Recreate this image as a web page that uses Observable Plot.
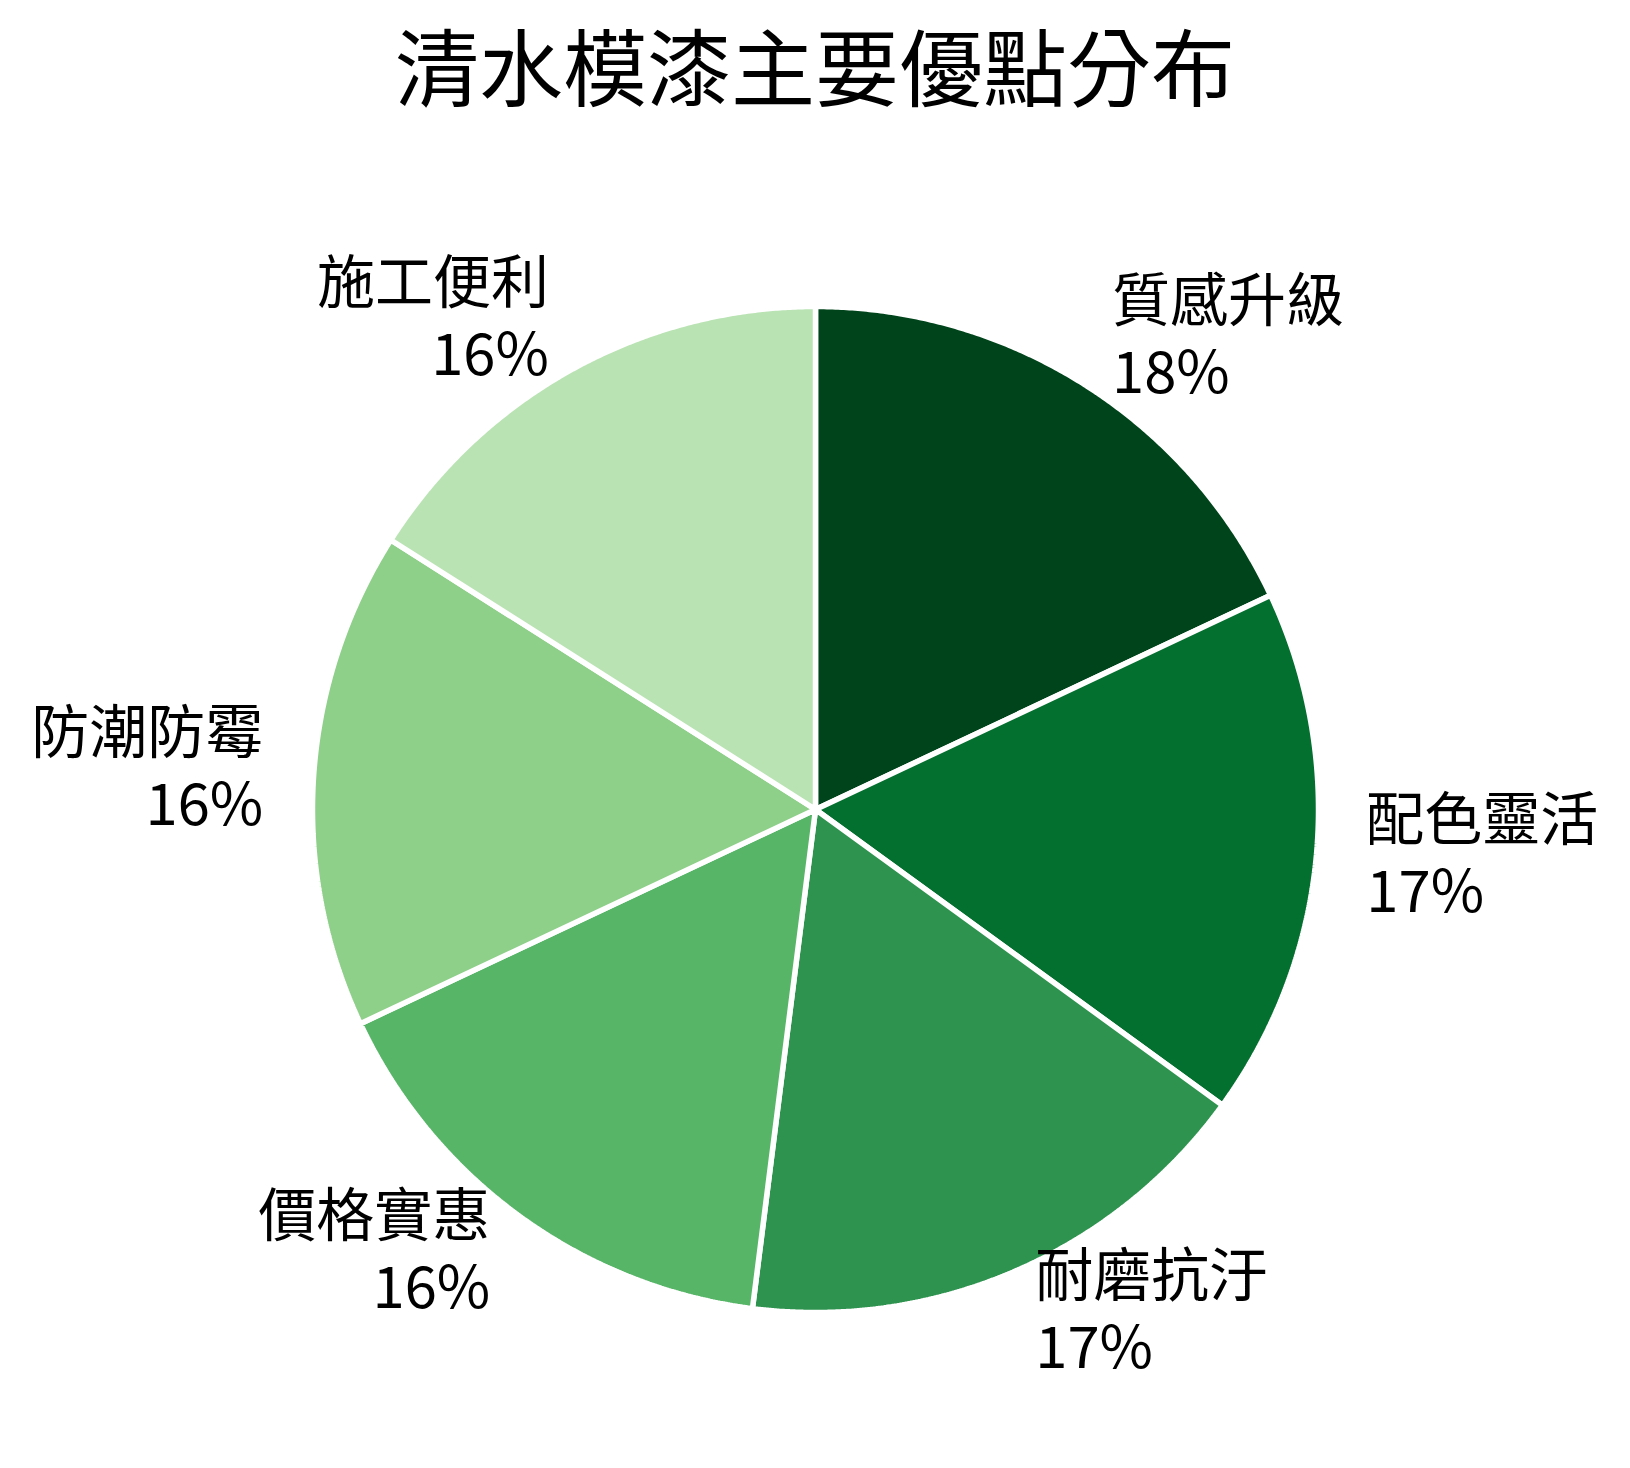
<!DOCTYPE html>
<html>
<head>
<meta charset="utf-8">
<script src="https://cdn.jsdelivr.net/npm/d3@7"></script>
<script src="https://cdn.jsdelivr.net/npm/@observablehq/plot@0.6"></script>
<style>
  html, body { margin: 0; padding: 0; background: #fff; }
  #title {
    width: 1630px; height: 128px; line-height: 128px; text-align: center;
    font-family: "Noto Sans CJK TC", "Noto Sans CJK SC", sans-serif;
    font-size: 84px; color: #000; margin: 0; font-weight: 400;
  }
</style>
</head>
<body>
<div id="title">清水模漆主要優點分布</div>
<div id="chart"></div>
<script>
const categories = ["質感升級", "配色靈活", "耐磨抗汙", "價格實惠", "防潮防霉", "施工便利"];
const values = [18, 17, 17, 16, 16, 16];
const colors = ["#00441b", "#04702f", "#2e934f", "#56b567", "#8ecf89", "#b9e3b3"];

const W = 1630, H = 1468 - 128;
const cx = 815, cy = 809 - 128, R = 503, labelR = 1.1 * R;

const data = categories.map((c, i) => ({category: c, value: values[i]}));
const total = d3.sum(values);
const arcs = d3.pie().sort(null).value(d => d.value)(data);

const points = [];
for (const a of arcs) {
  const c = a.data.category;
  points.push({category: c, x: 0, y: 0});
  const n = 200;
  for (let k = 0; k <= n; k++) {
    const t = a.startAngle + (a.endAngle - a.startAngle) * k / n;
    points.push({category: c, x: R * Math.sin(t), y: R * Math.cos(t)});
  }
  points.push({category: c, x: 0, y: 0});
}

const labels = arcs.map(a => {
  const m = (a.startAngle + a.endAngle) / 2;
  return {
    category: a.data.category,
    x: labelR * Math.sin(m),
    y: labelR * Math.cos(m),
    pct: `${Math.round(a.data.value / total * 100)}%`
  };
});

const font = "Noto Sans CJK TC, Noto Sans CJK SC, sans-serif";
const base = {x: "x", y: "y", fontSize: 58, lineAnchor: "middle", fontFamily: font, fill: "#000"};
const right = labels.filter(d => d.x >= 0), left = labels.filter(d => d.x < 0);

const plot = Plot.plot({
  width: W, height: H,
  margin: 0,
  x: {domain: [-cx, W - cx], range: [0, W], axis: null},
  y: {domain: [-(H - cy), cy], range: [H, 0], axis: null},
  color: {domain: categories, range: colors},
  style: {background: "#fff", overflow: "visible"},
  marks: [
    Plot.line(points, {x: "x", y: "y", z: "category", fill: "category",
      stroke: "white", strokeWidth: 5.5, strokeLinejoin: "miter", curve: "linear"}),
    Plot.text(right, {...base, text: "category", textAnchor: "start", dy: -40}),
    Plot.text(right, {...base, text: "pct", textAnchor: "start", dy: 32}),
    Plot.text(left, {...base, text: "category", textAnchor: "end", dy: -40}),
    Plot.text(left, {...base, text: "pct", textAnchor: "end", dy: 32})
  ]
});
document.getElementById("chart").appendChild(plot);
</script>
</body>
</html>
